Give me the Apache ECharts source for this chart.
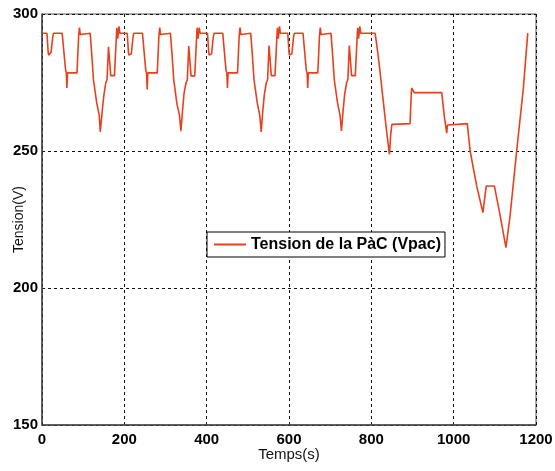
<!DOCTYPE html>
<html>
<head>
<meta charset="utf-8">
<script src="https://cdn.jsdelivr.net/npm/echarts@6/dist/echarts.min.js"></script>
<style>
  html, body { margin: 0; padding: 0; background: #fff; }
  #chart { width: 555px; height: 471px; }
</style>
</head>
<body>
<div id="chart"></div>
<script>
// Fuel-cell stack voltage over four urban cycles (ECE) followed by the extra-urban part
const cycle1T = [0, 12, 15, 16, 22, 26, 28, 49, 57, 59, 60.5, 62, 85, 89, 91, 93, 95, 117, 121, 125, 133, 139, 141.5, 146, 150, 155, 158, 161.5, 167, 176, 181, 182, 184, 187, 189];
const cycle1V = [293, 293, 286, 285, 286, 291.5, 293, 293, 280, 278.5, 273, 278.5, 278.5, 292, 295, 292.5, 293, 293, 285, 276, 267.5, 263, 257, 264, 270, 275, 276, 288, 277.5, 277.5, 293, 295, 291, 295.5, 293];

const cycle2T = [195, 207, 210, 211, 217, 221, 223, 244, 252, 254, 255.5, 257, 280, 284, 286, 288, 290, 312, 316, 320, 328, 334, 337.5, 341, 345, 350, 353, 356.5, 362, 371, 376, 377, 379, 382, 384];
const cycle2V = [293, 293, 286, 285, 285.5, 291.5, 293, 293, 279.5, 278.5, 272.5, 278.5, 278.5, 292, 295, 292.5, 293, 293, 285, 276, 267, 263, 257.3, 264, 271, 275, 276, 288.3, 277.4, 277.4, 293, 295, 291, 295, 293];

const cycle3T = [390, 402, 405, 406, 412, 416, 418, 439, 447, 449, 450.5, 452, 475, 479, 481, 483, 485, 507, 511, 515, 523, 529, 532.5, 536, 540, 545, 548, 551.5, 557, 566, 571, 572, 574, 577, 579];
const cycle3V = [293, 293, 286, 285, 285.5, 291.5, 293, 293, 279.5, 278.5, 273, 278.5, 278.5, 292, 295, 292.5, 293, 293, 285, 276, 267.5, 263, 257, 264, 270.5, 275, 276, 288.5, 277.5, 277.5, 293, 295, 291, 295.5, 293];

const cycle4T = [585, 597, 600, 601, 607, 611, 613, 634, 642, 644, 645.5, 647, 670, 674, 676, 678, 680, 702, 706, 710, 718, 724, 727.5, 731, 735, 740, 743, 746.5, 752, 761, 766, 767, 769, 772, 774];
const cycle4V = [293, 293, 286, 285, 285.5, 291.5, 293, 293, 279.5, 278.5, 273, 278.5, 278.5, 292, 295, 292.5, 293, 293, 285, 276, 267.5, 263, 257.3, 264, 270.5, 275, 276, 288.5, 277.5, 277.5, 293, 295, 291, 295.5, 293];

const eudcT = [780, 809, 813, 820, 828, 837, 844, 847, 850, 854, 894, 897, 898, 904, 971, 977, 983, 985, 987, 1033, 1040, 1056, 1071, 1079, 1099, 1113, 1127, 1137, 1153, 1169, 1180];
const eudcV = [293, 293, 289, 280.5, 269.5, 257.3, 248.8, 256, 259.7, 260, 260, 271, 273, 271.3, 271.3, 263, 256.5, 259.5, 260, 260, 250, 237.2, 227.5, 237.2, 237.2, 226.3, 214.7, 226.3, 250, 272.5, 293];

const xTicks = [0, 200, 400, 600, 800, 1000, 1200];
const yTicks = [150, 200, 250, 300];

const seriesName = 'Tension de la PàC (Vpac)';

const times = [].concat(cycle1T, cycle2T, cycle3T, cycle4T, eudcT);
const volts = [].concat(cycle1V, cycle2V, cycle3V, cycle4V, eudcV);
const points = times.map((t, i) => [t, volts[i]]);

const font = '"Liberation Sans", Arial, sans-serif';
const gridLine = { show: true, lineStyle: { color: '#111', width: 1, type: [3, 3] } };
const plain = v => String(v);

const chart = echarts.init(document.getElementById('chart'), null, { renderer: 'canvas' });
chart.setOption({
  animation: false,
  backgroundColor: '#fff',
  grid: {
    left: 42, right: 19, top: 14, bottom: 46,
    containLabel: false,
    outerBoundsMode: 'none',
    show: true, borderColor: '#555', borderWidth: 1, backgroundColor: 'transparent'
  },
  legend: {
    data: [seriesName],
    left: 207, top: 232,
    backgroundColor: '#fff',
    borderColor: '#000', borderWidth: 1, borderRadius: 0,
    padding: [4, 4, 4, 7],
    itemWidth: 32, itemHeight: 2, itemGap: 5,
    icon: 'rect',
    textStyle: { fontFamily: font, fontSize: 16, fontWeight: 'bold', color: '#000', lineHeight: 17 }
  },
  xAxis: {
    type: 'value',
    min: xTicks[0], max: xTicks[xTicks.length - 1], interval: 200,
    name: 'Temps(s)', nameLocation: 'middle', nameGap: 22, nameMoveOverlap: false,
    nameTextStyle: { fontFamily: font, fontSize: 15, color: '#111' },
    axisLine: { show: true, lineStyle: { color: '#444', width: 1.5 } },
    axisTick: { show: false },
    axisLabel: { margin: 7, fontFamily: font, fontSize: 15, fontWeight: 'bold', color: '#000', formatter: plain },
    splitLine: gridLine
  },
  yAxis: {
    type: 'value',
    min: yTicks[0], max: yTicks[yTicks.length - 1], interval: 50,
    name: 'Tension(V)', nameLocation: 'middle', nameGap: 16, nameMoveOverlap: false,
    nameTextStyle: { fontFamily: font, fontSize: 14, color: '#111' },
    axisLine: { show: true, lineStyle: { color: '#444', width: 1.5 } },
    axisTick: { show: false },
    axisLabel: { margin: 4, fontFamily: font, fontSize: 15, fontWeight: 'bold', color: '#000', formatter: plain },
    splitLine: gridLine
  },
  series: [{
    name: seriesName,
    type: 'line',
    data: points,
    showSymbol: false,
    symbol: 'none',
    lineStyle: { color: '#e8401f', width: 1.6 },
    itemStyle: { color: '#e8401f' },
    z: 3
  }]
});
</script>
</body>
</html>
